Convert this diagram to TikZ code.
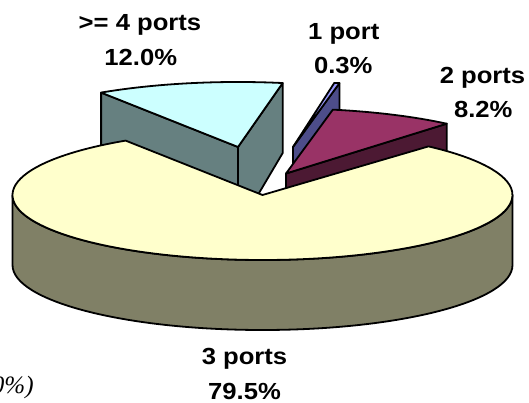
\documentclass[tikz,border=0pt]{standalone}
\usepackage{fontspec}
\newfontfamily\labfont{Liberation Sans}[FakeStretch=1.1]
\newfontfamily\capfont{Liberation Serif}
\definecolor{ytopc}{HTML}{FFFFCC}
\definecolor{ysidec}{HTML}{808066}
\definecolor{ttopc}{HTML}{CCFFFF}
\definecolor{tsidec}{HTML}{668080}
\definecolor{btopc}{HTML}{9999FF}
\definecolor{bsidec}{HTML}{4D4D8A}
\definecolor{mtopc}{HTML}{993366}
\definecolor{msidec}{HTML}{4C1933}
\begin{document}
\begin{tikzpicture}[x=1pt,y=-1pt,line width=1.8pt,line join=round,
  face/.style={draw=black,fill=#1},
  lab/.style={font=\labfont\bfseries\fontsize{23.3}{28}\selectfont,anchor=base,inner sep=0pt},
  capt/.style={font=\capfont\itshape\fontsize{25}{30}\selectfont,anchor=base east,inner sep=0pt}]
\path[fill=white,use as bounding box] (0,0) rectangle (529,403);
% centres
\coordinate (Yc) at (262.5,195);
\coordinate (Tc) at (238,147);
\coordinate (TL) at (101.1,92.6);
\coordinate (TR) at (282.7,83.05);
\coordinate (Bc) at (293,147);
\coordinate (BL) at (334.3,82.9);
\coordinate (BR) at (339.4,83.1);
\coordinate (Mc) at (286,173.5);
\coordinate (ML) at (332.85,109.65);
\coordinate (MR) at (446.7,123.7);
% >= 4 ports slice
\path[face=tsidec] (TL) -- (Tc) -- (238,210) -- (101.1,155.6) -- cycle;
\path[face=tsidec] (Tc) -- (TR) -- (282.7,153) -- (249,210) -- (238,210) -- cycle;
\path[face=ttopc] (Tc) -- (TL) arc[start angle=-123.2,end angle=-79.7,x radius=250,y radius=65] -- cycle;
% 1 port slice
\path[face=bsidec] (Bc) -- (BR) -- (339.4,130) -- (293,194) -- cycle;
\path[face=btopc] (Bc) -- (BL) arc[start angle=-80.5,end angle=-79.3,x radius=250,y radius=65] -- cycle;
% 2 ports slice
\path[face=msidec] (Mc) -- (MR) -- (446.7,168.7) -- (286,218.5) -- cycle;
\path[face=mtopc] (Mc) -- (ML) arc[start angle=-79.2,end angle=-50,x radius=250,y radius=65] -- cycle;
% 3 ports slice
\path[face=ysidec] (Yc) ++(180:250 and 65) arc[start angle=180,end angle=0,x radius=250,y radius=65] -- ++(0,70) arc[start angle=0,end angle=180,x radius=250,y radius=65] -- cycle;
\path[face=ytopc] (Yc) -- ++(-123.2:250 and 65) arc[start angle=-123.2,end angle=-408.4,x radius=250,y radius=65] -- cycle;
% labels
\node[lab] (l4a) at (140,30.7) {>= 4 ports};
\node[lab] (l4b) at (140.8,65.7) {12.0\%};
\node[lab] (l1a) at (343.8,39.3) {1 port};
\node[lab] (l1b) at (343.3,73.3) {0.3\%};
\node[lab] (l2a) at (482.5,83.3) {2 ports};
\node[lab] (l2b) at (483.3,117.3) {8.2\%};
\node[lab] (l3a) at (244.5,364.3) {3 ports};
\node[lab] (l3b) at (244.5,399) {79.5\%};
\node[capt] (cap) at (34.5,393) {0\%)};
\end{tikzpicture}
\end{document}
